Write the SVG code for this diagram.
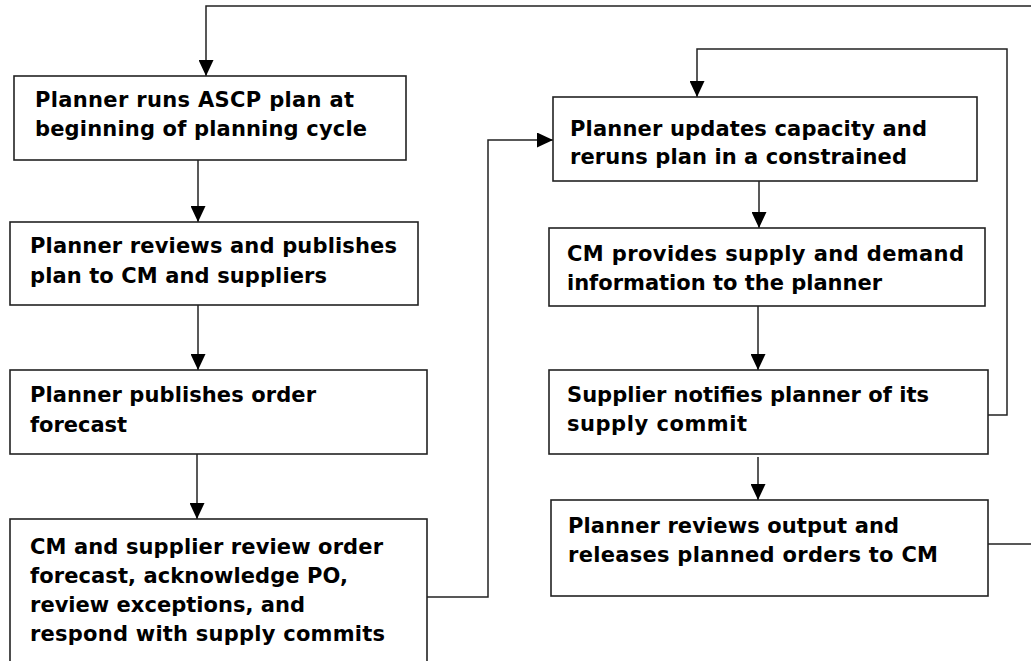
<svg xmlns="http://www.w3.org/2000/svg" width="1031" height="661" viewBox="0 0 1031 661">
<defs>
<style>
.box{fill:#fff;stroke:#222;stroke-width:1.6}
.c{fill:none;stroke:#222;stroke-width:1.5}
text{font-family:"DejaVu Sans",Verdana,sans-serif;font-weight:bold;font-size:21px;fill:#000}
</style>
<marker id="ah" markerUnits="userSpaceOnUse" markerWidth="16" markerHeight="15" refX="16" refY="7.5" orient="auto" viewBox="0 0 16 15">
<path d="M0,0 L16,7.5 L0,15 z" fill="#000"/>
</marker>
</defs>
<rect width="1031" height="661" fill="#fff"/>
<g id="connectors">
<path class="c" d="M988,544 H1045 V6 H206 V76" marker-end="url(#ah)"/>
<path class="c" d="M198,160 V222" marker-end="url(#ah)"/>
<path class="c" d="M198,305 V370" marker-end="url(#ah)"/>
<path class="c" d="M197,454 V519" marker-end="url(#ah)"/>
<path class="c" d="M427,597 H488 V140 H553" marker-end="url(#ah)"/>
<path class="c" d="M988,415 H1007 V49 H697 V97" marker-end="url(#ah)"/>
<path class="c" d="M759,181 V228" marker-end="url(#ah)"/>
<path class="c" d="M758,306 V370" marker-end="url(#ah)"/>
<path class="c" d="M758,457 V500" marker-end="url(#ah)"/>
</g>
<g id="n1">
<rect class="box" x="14" y="76" width="392" height="84"/>
<text x="35" y="107" textLength="319" lengthAdjust="spacing">Planner runs ASCP plan at</text>
<text x="35" y="136" textLength="332" lengthAdjust="spacing">beginning of planning cycle</text>
</g>
<g id="n2">
<rect class="box" x="10" y="222" width="408" height="83"/>
<text x="30" y="253" textLength="367" lengthAdjust="spacing">Planner reviews and publishes</text>
<text x="30" y="283" textLength="297" lengthAdjust="spacing">plan to CM and suppliers</text>
</g>
<g id="n3">
<rect class="box" x="10" y="370" width="417" height="84"/>
<text x="30" y="402" textLength="286" lengthAdjust="spacing">Planner publishes order</text>
<text x="30" y="432" textLength="97" lengthAdjust="spacing">forecast</text>
</g>
<g id="n4">
<rect class="box" x="10" y="519" width="417" height="170"/>
<text x="30" y="554" textLength="353" lengthAdjust="spacing">CM and supplier review order</text>
<text x="30" y="583" textLength="318" lengthAdjust="spacing">forecast, acknowledge PO,</text>
<text x="30" y="612" textLength="275" lengthAdjust="spacing">review exceptions, and</text>
<text x="30" y="641" textLength="355" lengthAdjust="spacing">respond with supply commits</text>
</g>
<g id="n5">
<rect class="box" x="553" y="97" width="424" height="84"/>
<text x="570" y="136" textLength="357" lengthAdjust="spacing">Planner updates capacity and</text>
<text x="570" y="164" textLength="337" lengthAdjust="spacing">reruns plan in a constrained</text>
</g>
<g id="n6">
<rect class="box" x="549" y="228" width="436" height="78"/>
<text x="567" y="261" textLength="397" lengthAdjust="spacing">CM provides supply and demand</text>
<text x="567" y="290" textLength="315" lengthAdjust="spacing">information to the planner</text>
</g>
<g id="n7">
<rect class="box" x="549" y="370" width="439" height="84"/>
<text x="567" y="402" textLength="362" lengthAdjust="spacing">Supplier notifies planner of its</text>
<text x="567" y="431" textLength="180" lengthAdjust="spacing">supply commit</text>
</g>
<g id="n8">
<rect class="box" x="551" y="500" width="437" height="96"/>
<text x="568" y="533" textLength="331" lengthAdjust="spacing">Planner reviews output and</text>
<text x="568" y="562" textLength="370" lengthAdjust="spacing">releases planned orders to CM</text>
</g>
</svg>
